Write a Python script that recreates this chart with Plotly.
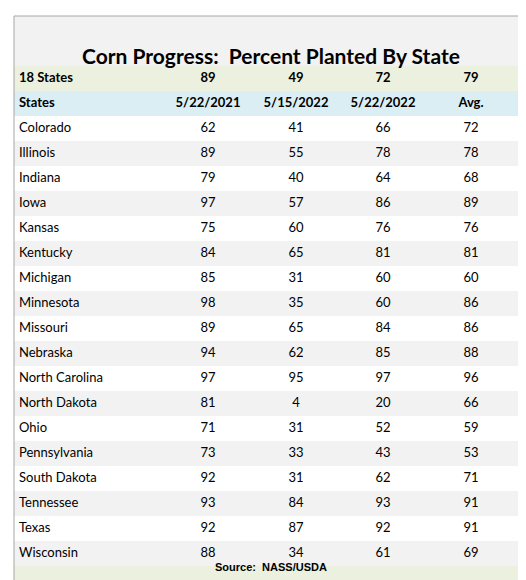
import plotly.graph_objects as go

states = ["Colorado", "Illinois", "Indiana", "Iowa", "Kansas", "Kentucky", "Michigan",
          "Minnesota", "Missouri", "Nebraska", "North Carolina", "North Dakota", "Ohio",
          "Pennsylvania", "South Dakota", "Tennessee", "Texas", "Wisconsin"]
y2021 = [62, 89, 79, 97, 75, 84, 85, 98, 89, 94, 97, 81, 71, 73, 92, 93, 92, 88]
may15_2022 = [41, 55, 40, 57, 60, 65, 31, 35, 65, 62, 95, 4, 31, 33, 31, 84, 87, 34]
may22_2022 = [66, 78, 64, 86, 76, 81, 60, 60, 84, 85, 97, 20, 52, 43, 62, 93, 92, 61]
avg = [72, 78, 68, 89, 76, 81, 60, 86, 86, 88, 96, 66, 59, 53, 71, 91, 91, 69]
totals = ["18 States", "89", "49", "72", "79"]
col_heads = ["States", "5/22/2021", "5/15/2022", "5/22/2022", "Avg."]

W, H = 526, 580
top_t, bot_t = 58, 558
col_x = [11, 200, 288, 375, 463]

cols = [states, y2021, may15_2022, may22_2022, avg]
n = len(states) + 2
rows_y = list(range(n))
font = dict(family="Lato", size=13, color="black")

fig = go.Figure()

# row backgrounds
fills = ["#ebf1de", "#daeef3"] + ["white" if i % 2 == 0 else "#f2f2f2" for i in range(len(states))]
for i, f in enumerate(fills):
    fig.add_shape(type="rect", xref="x", yref="y", x0=6, x1=521, y0=i - 0.5, y1=i + 0.5,
                  fillcolor=f, line_width=0, layer="below")

for j, c in enumerate(cols):
    txt = [f"<b>{totals[j]}</b>", f"<b>{col_heads[j]}</b>"] + [str(v) for v in c]
    fig.add_trace(go.Scatter(
        x=[col_x[j]] * n, y=rows_y, mode="text", text=txt,
        textposition="middle right" if j == 0 else "middle center",
        textfont=font, hoverinfo="skip", showlegend=False))

def py(px):
    return 1 - px / H

fig.add_shape(type="rect", xref="paper", yref="paper", x0=6 / W, x1=521 / W,
              y0=py(58), y1=py(8), fillcolor="#f2f2f2", line_width=0, layer="below")
fig.add_shape(type="rect", xref="paper", yref="paper", x0=6 / W, x1=521 / W,
              y0=py(576), y1=py(558), fillcolor="#ebf1de", line_width=0, layer="below")
fig.add_shape(type="rect", xref="paper", yref="paper", x0=6 / W, x1=521 / W,
              y0=py(576), y1=py(8), line=dict(color="#a6a6a6", width=1))
fig.add_annotation(text="<b>Corn Progress:  Percent Planted By State</b>", xref="paper", yref="paper",
                   x=0.5, y=py(33), showarrow=False, font=dict(family="Lato", size=21, color="black"))
fig.add_annotation(text="<b>Source:  NASS/USDA</b>", xref="paper", yref="paper",
                   x=0.5, y=py(567), showarrow=False, font=dict(family="Arial", size=11, color="black"))

fig.update_xaxes(range=[0, W], domain=[0, 1], visible=False, fixedrange=True)
fig.update_yaxes(range=[n - 0.5, -0.5], domain=[(H - bot_t) / H, (H - top_t) / H],
                 visible=False, fixedrange=True)
fig.update_layout(width=W, height=H, margin=dict(l=0, r=0, t=0, b=0),
                  paper_bgcolor="white", plot_bgcolor="white")
fig.write_html("out.html")
